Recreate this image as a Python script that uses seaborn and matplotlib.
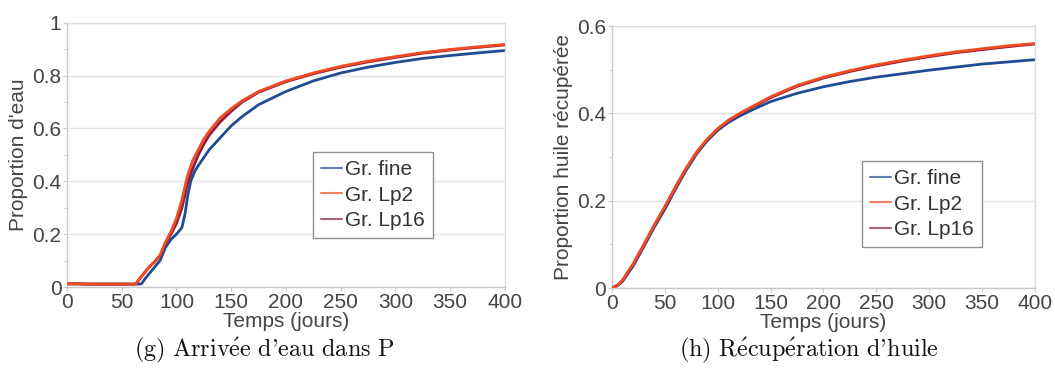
import matplotlib
matplotlib.use("Agg")
import matplotlib.pyplot as plt
import matplotlib.ticker as mticker
import seaborn as sns
import pandas as pd

series = ["Gr. fine", "Gr. Lp2", "Gr. Lp16"]
colors = ["#1f4c92", "#f04b22", "#8a2040"]

# (g) arrivée d'eau dans P
eau_x_fine = [0, 10, 20, 30, 40, 50, 60, 65, 68, 72, 76, 80, 85, 90, 95, 100, 105, 108, 110, 113,
              117, 120, 125, 130, 140, 150, 160, 175, 200, 225, 250, 275, 300, 325, 350, 375, 400]
eau_fine = [0.012, 0.012, 0.011, 0.011, 0.011, 0.011, 0.011, 0.011, 0.012, 0.035, 0.055, 0.075,
            0.10, 0.15, 0.18, 0.20, 0.225, 0.28, 0.34, 0.40, 0.44, 0.46, 0.49, 0.52, 0.565, 0.61,
            0.645, 0.69, 0.74, 0.78, 0.81, 0.832, 0.85, 0.865, 0.876, 0.886, 0.895]
eau_x_lp = [0, 10, 20, 30, 40, 50, 60, 63, 68, 72, 76, 80, 85, 90, 95, 100, 105, 110, 115, 120,
            125, 130, 140, 150, 160, 175, 200, 225, 250, 275, 300, 325, 350, 375, 400]
eau_lp2 = [0.012, 0.012, 0.011, 0.011, 0.011, 0.011, 0.011, 0.012, 0.04, 0.06, 0.08, 0.095,
           0.12, 0.17, 0.21, 0.26, 0.33, 0.42, 0.48, 0.52, 0.56, 0.59, 0.64, 0.675, 0.705, 0.74,
           0.78, 0.81, 0.835, 0.855, 0.872, 0.887, 0.899, 0.909, 0.918]
eau_lp16 = [0.012, 0.012, 0.011, 0.011, 0.011, 0.011, 0.011, 0.012, 0.04, 0.06, 0.08, 0.095,
            0.12, 0.165, 0.20, 0.24, 0.30, 0.39, 0.45, 0.50, 0.54, 0.575, 0.625, 0.665, 0.70, 0.737,
            0.777, 0.807, 0.832, 0.852, 0.869, 0.885, 0.897, 0.907, 0.916]

# (h) récupération d'huile
huile_x = [0, 5, 10, 20, 30, 40, 50, 60, 70, 80, 90, 100, 110, 120, 130, 140, 150, 175, 200,
           225, 250, 275, 300, 325, 350, 375, 400]
huile_fine = [0.0, 0.005, 0.015, 0.05, 0.094, 0.139, 0.18, 0.226, 0.269, 0.307, 0.337, 0.361,
              0.379, 0.393, 0.405, 0.416, 0.427, 0.446, 0.461, 0.473, 0.483, 0.491, 0.499, 0.506,
              0.513, 0.518, 0.523]
huile_lp2 = [0.0, 0.006, 0.018, 0.055, 0.099, 0.144, 0.186, 0.231, 0.274, 0.311, 0.341, 0.365,
             0.384, 0.399, 0.412, 0.425, 0.438, 0.464, 0.483, 0.498, 0.511, 0.522, 0.532, 0.541,
             0.548, 0.555, 0.56]
huile_lp16 = [0.0, 0.006, 0.017, 0.054, 0.098, 0.143, 0.185, 0.230, 0.273, 0.310, 0.340, 0.364,
              0.383, 0.398, 0.411, 0.423, 0.436, 0.462, 0.481, 0.496, 0.509, 0.52, 0.53, 0.539,
              0.546, 0.553, 0.559]

eau = pd.concat([
    pd.DataFrame({"t": eau_x_fine, "v": eau_fine, "s": series[0]}),
    pd.DataFrame({"t": eau_x_lp, "v": eau_lp2, "s": series[1]}),
    pd.DataFrame({"t": eau_x_lp, "v": eau_lp16, "s": series[2]}),
])
huile = pd.concat([
    pd.DataFrame({"t": huile_x, "v": huile_fine, "s": series[0]}),
    pd.DataFrame({"t": huile_x, "v": huile_lp2, "s": series[1]}),
    pd.DataFrame({"t": huile_x, "v": huile_lp16, "s": series[2]}),
])

sns.set_theme(style="whitegrid")
plt.rcParams['font.family'] = ['Liberation Sans', 'DejaVu Sans']
plt.rcParams['mathtext.fontset'] = 'cm'

fig = plt.figure(figsize=(10.55, 3.78), dpi=100)
ax1 = fig.add_axes([0.0635, 0.2407, 0.415, 0.699])
ax2 = fig.add_axes([0.580, 0.238, 0.401, 0.693])

panels = [
    (ax1, eau, "Proportion d'eau", 1.0, [0, 0.2, 0.4, 0.6, 0.8, 1.0], (313, 152)),
    (ax2, huile, "Proportion huile récupérée", 0.6, [0, 0.2, 0.4, 0.6], (862, 161)),
]
for ax, df, ylab, ymax, yticks, leg in panels:
    sns.lineplot(data=df, x="t", y="v", hue="s", hue_order=series, palette=colors,
                 linewidth=2.0, ax=ax)
    ax.lines[1].set_zorder(3)
    ax.set_xlim(0, 400)
    ax.set_ylim(0, ymax)
    ax.set_xticks(range(0, 401, 50))
    ax.set_yticks(yticks)
    ax.yaxis.set_major_formatter(mticker.FormatStrFormatter("%g"))
    ax.yaxis.set_minor_locator(mticker.MultipleLocator(0.1))
    ax.grid(axis="x", visible=False)
    ax.grid(axis="y", color="#e4e4e4", linewidth=1.0)
    for sp in ax.spines.values():
        sp.set_color("#dcdcdc")
        sp.set_linewidth(1.0)
    ax.spines["left"].set_color("#c8c8c8")
    ax.spines["bottom"].set_color("#c8c8c8")
    ax.tick_params(axis="both", which="major", labelsize=15, colors="#444444", pad=1,
                   length=3, width=0.8, color="#c8c8c8", left=True, bottom=True)
    ax.tick_params(axis="y", which="minor", length=2, width=0.8, color="#d0d0d0", left=True)
    ax.set_xlabel("Temps (jours)", fontsize=15, color="#444444", labelpad=0)
    ax.set_ylabel(ylab, fontsize=15, color="#444444", labelpad=3)
    lx, ly = leg
    lg = ax.legend(loc="upper left", bbox_to_anchor=(lx / 1055, 1 - ly / 378),
                   bbox_transform=fig.transFigure, fontsize=15, frameon=True, fancybox=False,
                   handlelength=1.0, handletextpad=0.15, borderpad=0.4, labelspacing=0.3,
                   borderaxespad=0)
    lg.get_frame().set_edgecolor("#909090")
    lg.get_frame().set_linewidth(1.0)
    lg.get_frame().set_alpha(1)
    for t in lg.get_texts():
        t.set_color("#333333")
    for h in lg.get_lines():
        h.set_linewidth(1.5)
        h.set_alpha(0.7)

cap_g = r"$\mathrm{(g)\ Arriv\acute{e}e\ d}$" + "'" + r"$\mathrm{eau\ dans\ P}$"
cap_h = r"$\mathrm{(h)\ R\acute{e}cup\acute{e}ration\ d}$" + "'" + r"$\mathrm{huile}$"
fig.text(264 / 1055, 1 - 350 / 378, cap_g, ha="center", va="center",
         fontsize=17.5, family=['cmr10', 'DejaVu Serif'], color="#111111")
fig.text(809 / 1055, 1 - 350 / 378, cap_h, ha="center", va="center",
         fontsize=17.5, family=['cmr10', 'DejaVu Serif'], color="#111111")

fig.savefig("out.png", dpi=100)
